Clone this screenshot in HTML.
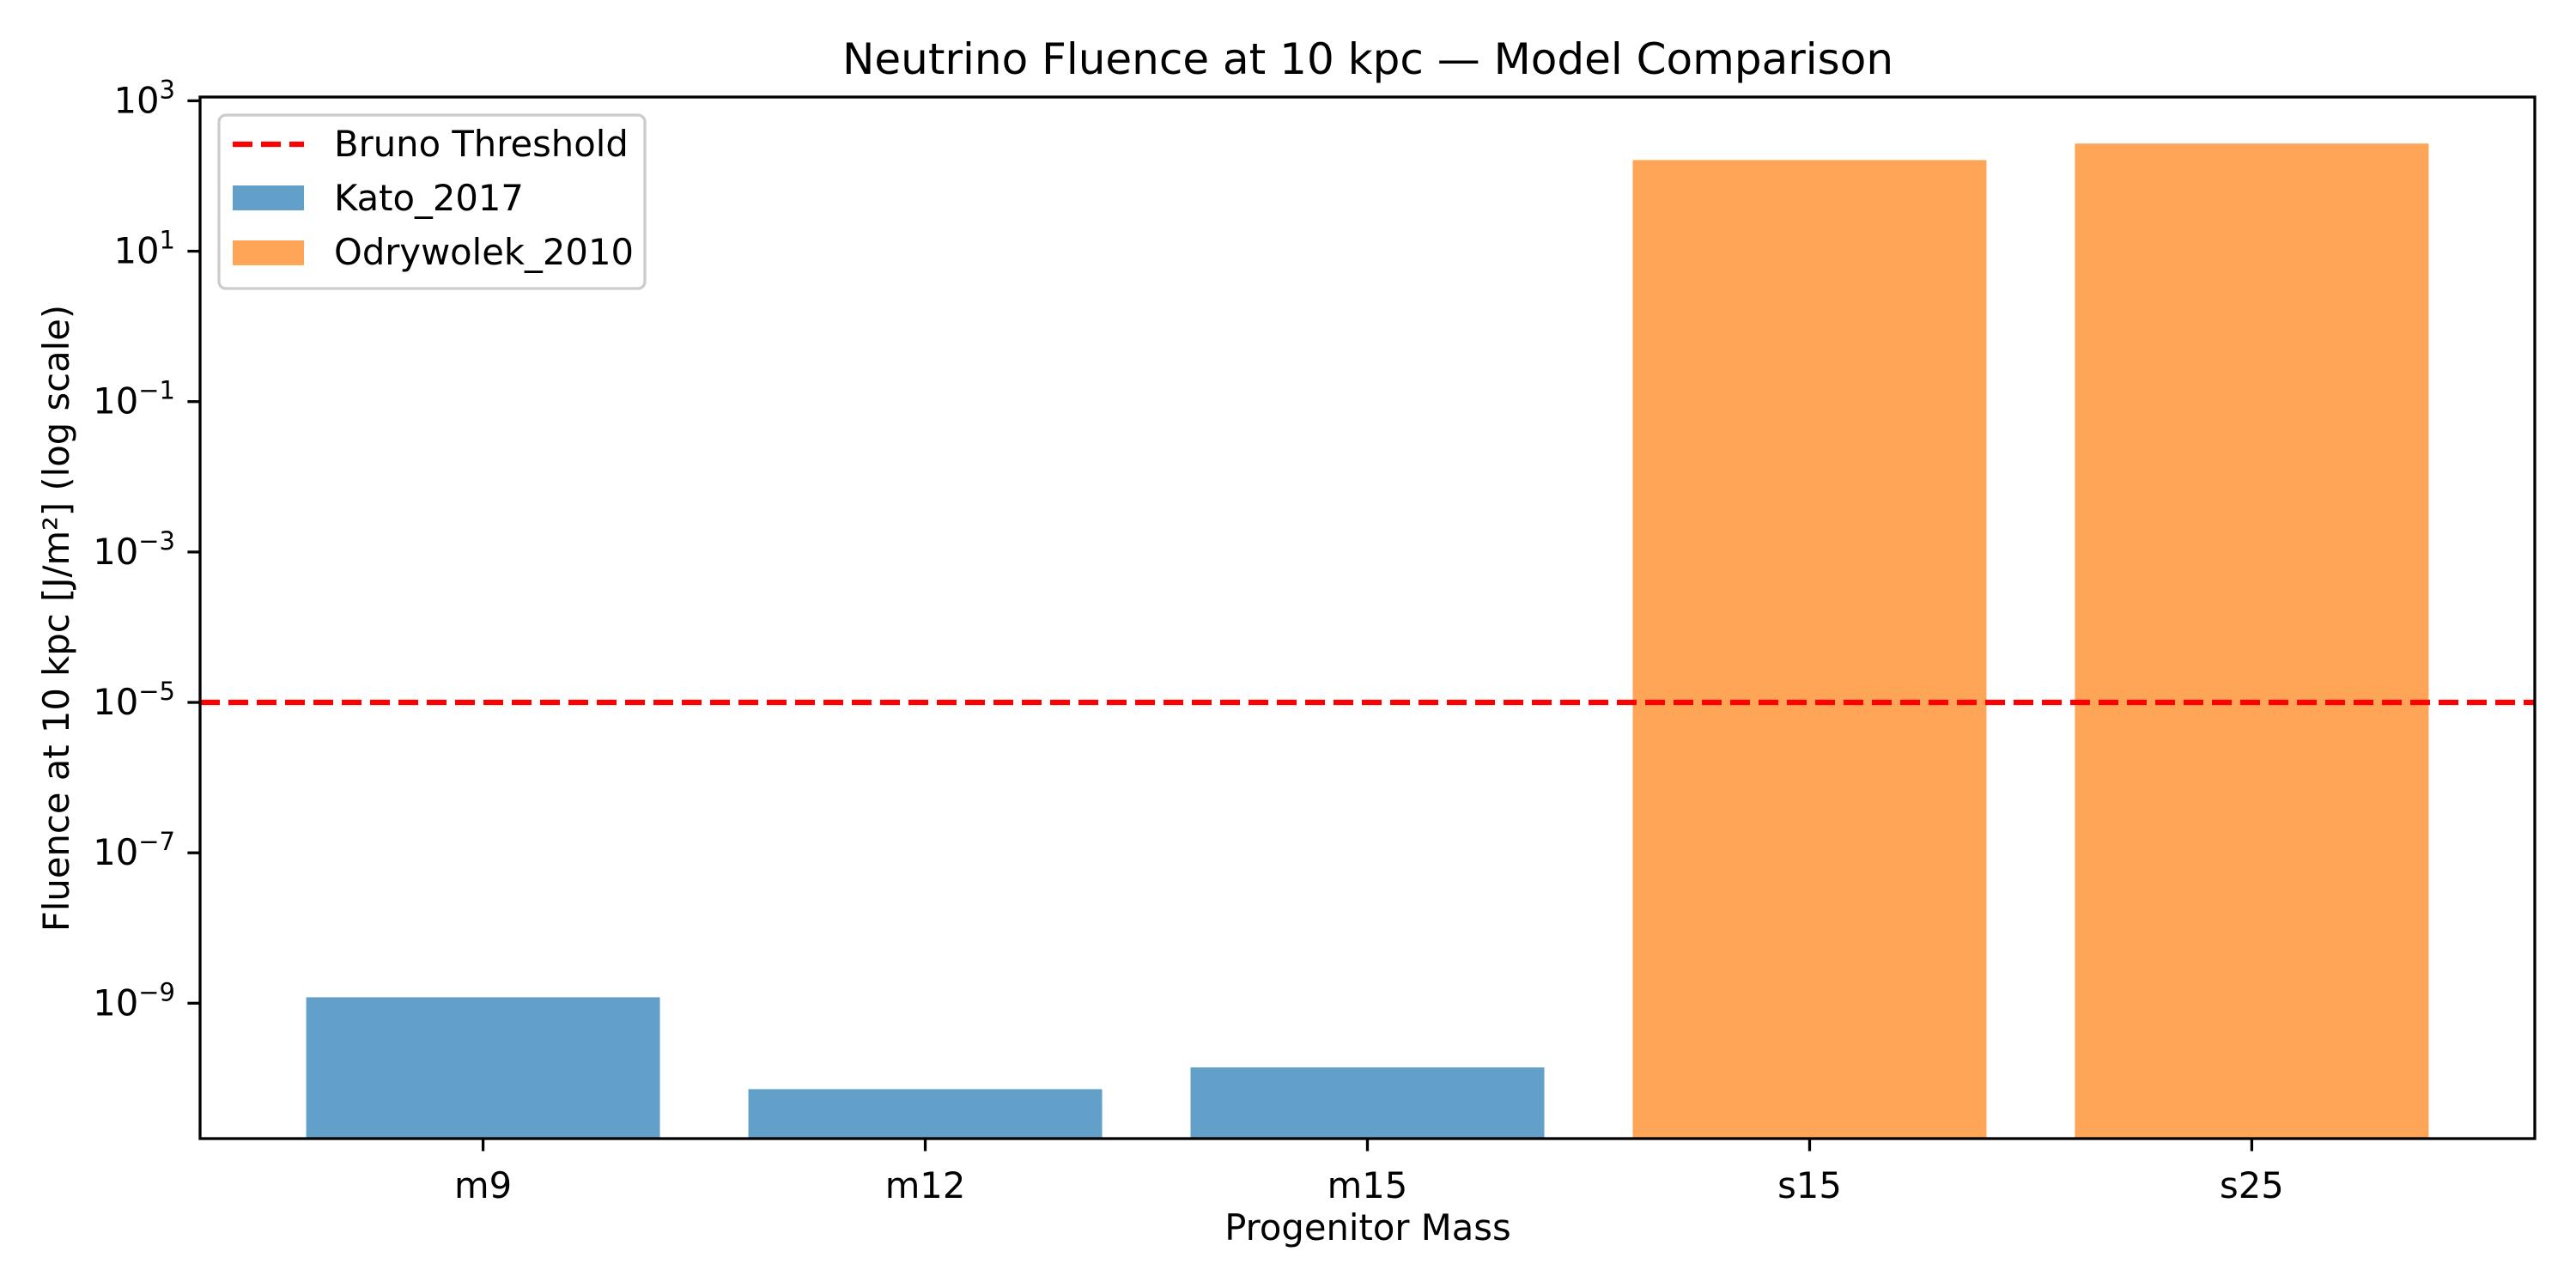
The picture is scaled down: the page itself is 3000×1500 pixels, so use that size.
<!DOCTYPE html>
<html><head><meta charset="utf-8"><style>
html,body{margin:0;padding:0;background:#fff;}
svg{display:block;font-family:"DejaVu Sans","Liberation Sans",sans-serif;}
</style></head><body>
<svg id="chart" width="3000" height="1500" viewBox="0 0 3000 1500" xmlns="http://www.w3.org/2000/svg">
<rect width="3000" height="1500" fill="#fff"/>
<g id="bars"></g>
<g id="thr"></g>
<g id="axes"></g>
<text x="1593" y="86" font-size="50" text-anchor="middle">Neutrino Fluence at 10 kpc — Model Comparison</text>
<text x="1593" y="1444" font-size="41.7" text-anchor="middle">Progenitor Mass</text>
<text transform="translate(80,720) rotate(-90)" font-size="41.7" text-anchor="middle">Fluence at 10 kpc [J/m²] (log scale)</text>
<g>
<rect x="255" y="134" width="496" height="202" rx="8" fill="#fff" fill-opacity="0.8" stroke="#cccccc" stroke-width="3.3"/>
<line x1="271" y1="168" x2="354" y2="168" stroke="#ff0000" stroke-width="6.25" stroke-dasharray="23,10"/>
<text x="389" y="182" font-size="41.7">Bruno Threshold</text>
<rect x="271" y="216" width="83" height="29" fill="#62a0ca"/>
<text x="389" y="245" font-size="41.7">Kato_2017</text>
<rect x="271" y="280" width="83" height="29" fill="#ffa557"/>
<text x="389" y="308" font-size="41.7">Odrywolek_2010</text>
</g>
</svg>
<script>
const categories = ["m9","m12","m15","s15","s25"];
const fluenceValues = [1.2e-9, 7.2e-11, 1.4e-10, 163, 270];
const seriesOfBar = ["Kato_2017","Kato_2017","Kato_2017","Odrywolek_2010","Odrywolek_2010"];
const thresholdValue = 1e-5;
const yTickExponents = [3,1,-1,-3,-5,-7,-9];

const NS="http://www.w3.org/2000/svg";
const L=233,R=2952,T=113,B=1326;
const xMin=-0.64,xMax=4.64;
const logMin=-10.8,logMax=3.05;
function xScale(i){return L+(i-xMin)/(xMax-xMin)*(R-L);}
function yScale(v){return B-(Math.log10(v)-logMin)/(logMax-logMin)*(B-T);}
const colors={"Kato_2017":"#62a0ca","Odrywolek_2010":"#ffa557"};
function mk(tag,attrs,parent){const e=document.createElementNS(NS,tag);for(const k in attrs)e.setAttribute(k,attrs[k]);parent.appendChild(e);return e;}

const barsG=document.getElementById('bars');
categories.forEach((c,i)=>{
  const w=0.8*(xScale(1)-xScale(0));
  const y=yScale(fluenceValues[i]);
  const r=mk('rect',{x:xScale(i)-w/2,y:y,width:w,height:B-y,fill:colors[seriesOfBar[i]]},barsG);
  
  
});

const thrG=document.getElementById('thr');
const ty=yScale(thresholdValue);
const tl=mk('line',{x1:L,x2:R,y1:ty,y2:ty,stroke:"#ff0000","stroke-width":6.25,"stroke-dasharray":"23,10"},thrG);



const ax=document.getElementById('axes');
const frame=mk('rect',{x:L,y:T,width:R-L,height:B-T,fill:"none",stroke:"#000","stroke-width":3.3},ax);


yTickExponents.forEach(e=>{
  const y=yScale(Math.pow(10,e));
  const t=mk('line',{x1:L-14.6,x2:L,y1:y,y2:y,stroke:"#000","stroke-width":3.3},ax);
  
  
  const tx=mk('text',{x:L-29,y:y+14,"font-size":41.7,"text-anchor":"end"},ax);
  
  
  const a=document.createElementNS(NS,'tspan');a.textContent='10';tx.appendChild(a);
  const s=document.createElementNS(NS,'tspan');s.setAttribute('dy','-17');s.setAttribute('font-size','29');
  s.textContent=(e<0?'\u2212'+(-e):String(e));tx.appendChild(s);
});
categories.forEach((c,i)=>{
  const x=xScale(i);
  const t=mk('line',{x1:x,x2:x,y1:B,y2:B+14.6,stroke:"#000","stroke-width":3.3},ax);
  
  
  const tx=mk('text',{x:x,y:B+69,"font-size":41.7,"text-anchor":"middle"},ax);
  
  
  tx.textContent=c;
});
</script>
</body></html>
